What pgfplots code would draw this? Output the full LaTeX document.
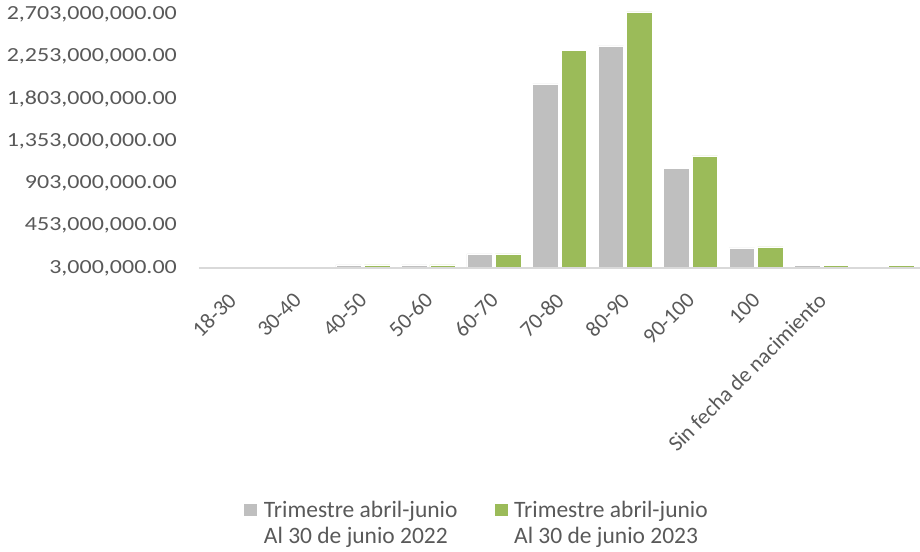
\documentclass[border=0pt]{standalone}
\usepackage{fontspec}
\setmainfont{Carlito}
\newfontfamily\tickfont[FakeStretch=1.2]{Carlito}
\usepackage{pgfplots}
\usepackage{pgfplotstable}
\pgfplotsset{compat=1.18}

\definecolor{barGray}{HTML}{BFBFBF}
\definecolor{barGreen}{HTML}{9BBB59}
\definecolor{txtGray}{HTML}{595959}
\definecolor{axGray}{HTML}{D9D9D9}

% age groups: 0=18-30 ... 9=Sin fecha, 10=unlabelled
\pgfplotstableread{
x   y2022    y2023
0   nan      nan
1   nan      nan
2   35e6     35e6
3   35e6     35e6
4   152e6    152e6
5   1960e6   2320e6
6   2363e6   2725e6
7   1066e6   1194e6
8   216e6    228e6
9   32e6     32e6
10  nan      32e6
}\agedata

\begin{document}
\begin{tikzpicture}
\begin{axis}[
    scale only axis,
    width=721pt, height=254pt,
    xmin=-0.5, xmax=10.5,
    ymin=3e6, ymax=2703e6,
    clip=false,
    axis on top,
    ybar=3pt, bar width=25.5pt,
    axis x line*=bottom, axis y line*=left,
    x axis line style={draw=axGray, line width=1.5pt},
    y axis line style={draw=none},
    tick style={draw=none},
    scaled y ticks=false,
    xtick={0,...,9},
    xticklabels={18-30,30-40,40-50,50-60,60-70,70-80,80-90,90-100,100,Sin fecha de nacimiento},
    ytick={3e6,453e6,903e6,1353e6,1803e6,2253e6,2703e6},
    yticklabels={{3,000,000.00},{453,000,000.00},{903,000,000.00},{1,353,000,000.00},{1,803,000,000.00},{2,253,000,000.00},{2,703,000,000.00}},
    ticklabel style={text=txtGray},
    yticklabel style={font=\tickfont\fontsize{20}{24}\selectfont, inner sep=0pt, xshift=-22pt},
    xticklabel style={font=\fontsize{22}{26}\selectfont, inner sep=0pt, xshift=-5pt, yshift=-19pt, rotate=45, anchor=north east},
    legend columns=2,
    legend cell align=left,
    legend style={
        at={(0.385,-1.006)}, anchor=center,
        draw=none, fill=none,
        font=\fontsize{23.5}{26}\selectfont, text=txtGray,
        cells={align=left},
        /tikz/every even column/.append style={column sep=34pt},
    },
    legend image code/.code={\fill[#1] (0pt,7pt) rectangle (14pt,20pt); \path (18pt,7pt);},
]
\addplot[fill=barGray, draw=white, line width=0.6pt] table[x=x, y=y2022] {\agedata};
\addlegendentry{Trimestre abril-junio\\Al 30 de junio 2022}
\addplot[fill=barGreen, draw=white, line width=0.6pt] table[x=x, y=y2023] {\agedata};
\addlegendentry{Trimestre abril-junio\\Al 30 de junio 2023}
\coordinate (o) at (rel axis cs:0,0);
\end{axis}
\pgfresetboundingbox
\path[shift={(o)}] (-199pt,-283pt) rectangle (721pt,268pt);
\end{tikzpicture}
\end{document}
